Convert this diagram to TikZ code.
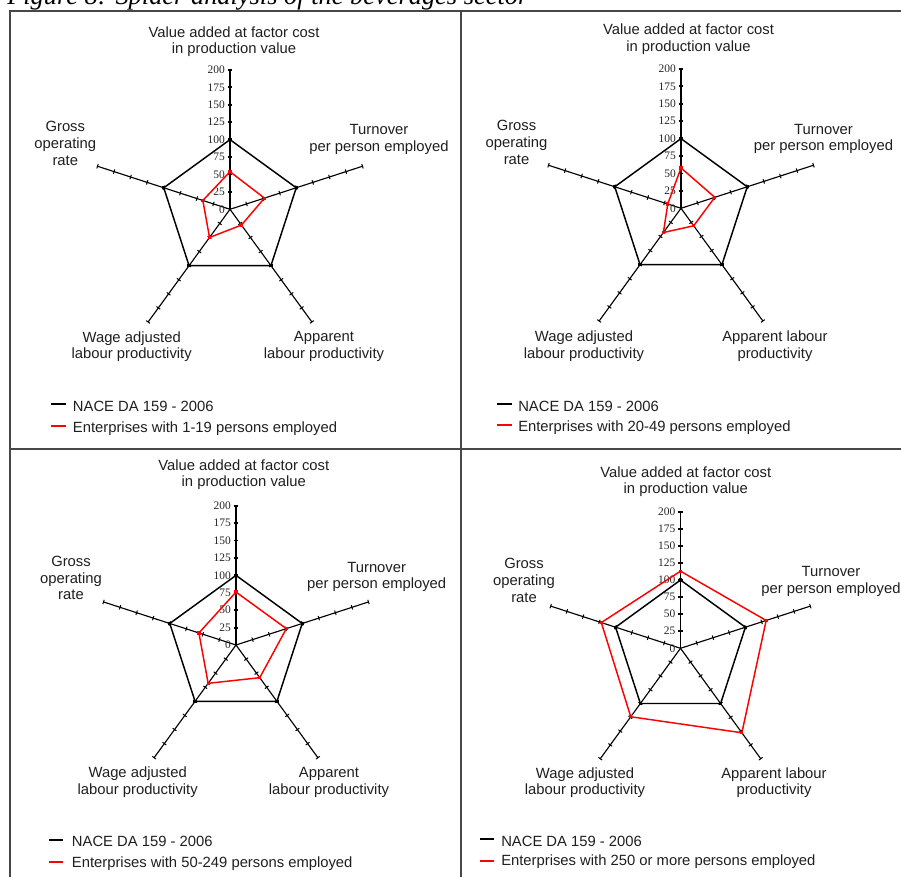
\documentclass[tikz,border=0pt]{standalone}
\usepackage{fontspec}
\setmainfont{Liberation Sans}
\newfontfamily\timesf{Liberation Serif}
\usetikzlibrary{calc}
\tikzset{
  frame/.style={draw=black!72, line width=1.5pt},
  mainaxis/.style={line width=1.4pt, black},
  axisline/.style={line width=0.85pt, black},
  tickmark/.style={line width=0.75pt, black},
  natpoly/.style={line width=1.1pt, black, line join=miter},
  secpoly/.style={line width=1.1pt, red, line join=miter},
  lbl/.style={font=\fontsize{11.1}{12.5}\selectfont, align=center, text=black!88, inner sep=0pt},
  ticklbl/.style={font=\timesf\fontsize{8.6}{9}\selectfont, anchor=east, inner sep=0pt, text=black!85},
  legtxt/.style={font=\fontsize{11.1}{12.5}\selectfont, anchor=west, inner sep=0pt, text=black!88},
  legline/.style={line width=1.5pt},
  mk/.style={rectangle, inner sep=0pt, minimum size=2.4pt},
  ttl/.style={font=\timesf\itshape\fontsize{19.8}{20}\selectfont, anchor=base west, inner sep=0pt},
}
% #1 prefix, #2 cx, #3 cy, #4 R(200), #5..#9 values
\newcommand\spiderchart[9]{%
\begin{scope}[shift={(#2,#3)}]
  \coordinate (#1c) at (0,0);
  \foreach \a in {-18,54,126,198}{
    \draw[axisline] (0,0) -- (\a:#4);
    \foreach \k in {1,...,8}{
      \draw[tickmark] ($(\a:\k*#4/8)+(\a+90:2.3)$) -- ($(\a:\k*#4/8)+(\a-90:2.3)$);
    }
  }
  \draw[mainaxis] (0,0) -- (0,-#4);
  \foreach \k in {1,...,8}{
    \draw[mainaxis] (-2.4,-\k*#4/8) -- (2.4,-\k*#4/8);
  }
  \foreach \k in {0,...,8}{
    \pgfmathtruncatemacro\tv{\k*25}
    \node[ticklbl] at (-5,-\k*#4/8) {\tv};
  }
  \draw[natpoly] (-90:#4/2) -- (-18:#4/2) -- (54:#4/2) -- (126:#4/2) -- (198:#4/2) -- cycle;
  \foreach \a in {-90,-18,54,126,198}{
    \node[mk, fill=black] at (\a:#4/2) {};
  }
  \draw[secpoly] (-90:#5/200*#4) -- (-18:#6/200*#4) -- (54:#7/200*#4) -- (126:#8/200*#4) -- (198:#9/200*#4) -- cycle;
  \foreach \a/\v in {-90/#5,-18/#6,54/#7,126/#8,198/#9}{
    \node[mk, fill=red] at (\a:\v/200*#4) {};
  }
\end{scope}}
\begin{document}
\begin{tikzpicture}[x=0.75pt,y=-0.75pt]
\useasboundingbox (0,0) rectangle (901,877);
\clip (0,0) rectangle (901,877);
\fill[white] (0,0) rectangle (901,877);

% title
\node[ttl] (title) at (7,4.5) {Figure 8: Spider analysis of the beverages sector};

% frame
\draw[frame] (10,877) -- (10,11.5) -- (901,11.5);
\draw[frame] (460.5,11.5) -- (460.5,877);
\draw[frame] (10,449) -- (901,449);

% ---------- panel 1 ----------
\spiderchart{pa}{230}{209.3}{139.3}{54}{52}{28}{50}{41}
\node[lbl] (pa-top) at (234,41.7) {Value added at factor cost\\in production value};
\node[lbl] (pa-gro) at (65.3,143.5) {Gross\\operating\\rate};
\node[lbl] (pa-tur) at (379,139.5) {Turnover\\per person employed};
\node[lbl] (pa-wag) at (131.7,346.7) {Wage adjusted\\labour productivity};
\node[lbl] (pa-app) at (324,346.7) {Apparent\\labour productivity};
\draw[legline, black] (51,404) -- (65.7,404);
\draw[legline, red] (51,425.7) -- (65.7,425.7);
\node[legtxt] (pa-l1) at (72.7,406.7) {NACE DA 159 - 2006};
\node[legtxt] (pa-l2) at (72.7,428.3) {Enterprises with 1-19 persons employed};

% ---------- panel 2 ----------
\spiderchart{pb}{681}{208.3}{139.3}{58}{51}{31}{43}{20}
\node[lbl] (pb-top) at (688.5,39.5) {Value added at factor cost\\in production value};
\node[lbl] (pb-gro) at (516.5,142.5) {Gross\\operating\\rate};
\node[lbl] (pb-tur) at (823.5,139) {Turnover\\per person employed};
\node[lbl] (pb-wag) at (584,346) {Wage adjusted\\labour productivity};
\node[lbl] (pb-app) at (775,346) {Apparent labour\\productivity};
\draw[legline, black] (497,404) -- (511.5,404);
\draw[legline, red] (497,425.5) -- (511.5,425.5);
\node[legtxt] (pb-l1) at (518,406.5) {NACE DA 159 - 2006};
\node[legtxt] (pb-l2) at (518,428) {Enterprises with 20-49 persons employed};

% ---------- panel 3 ----------
\spiderchart{pc}{236}{645}{139.3}{76}{76}{58}{68}{56}
\node[lbl] (pc-top) at (243.8,474.7) {Value added at factor cost\\in production value};
\node[lbl] (pc-gro) at (71,578) {Gross\\operating\\rate};
\node[lbl] (pc-tur) at (376.7,577) {Turnover\\per person employed};
\node[lbl] (pc-wag) at (137.7,782.3) {Wage adjusted\\labour productivity};
\node[lbl] (pc-app) at (329,782.3) {Apparent\\labour productivity};
\draw[legline, black] (49.3,840) -- (63.3,840);
\draw[legline, red] (49.3,862.3) -- (63.3,862.3);
\node[legtxt] (pc-l1) at (71.7,841.7) {NACE DA 159 - 2006};
\node[legtxt] (pc-l2) at (71.7,864) {Enterprises with 50-249 persons employed};

% ---------- panel 4 ----------
\spiderchart{pd}{680.5}{648.3}{136.5}{113}{132}{153}{124}{122}
\node[lbl] (pd-top) at (685.8,481.7) {Value added at factor cost\\in production value};
\node[lbl] (pd-gro) at (524,580.5) {Gross\\operating\\rate};
\node[lbl] (pd-tur) at (831,581.3) {Turnover\\per person employed};
\node[lbl] (pd-wag) at (585,782.8) {Wage adjusted\\labour productivity};
\node[lbl] (pd-app) at (774,782.8) {Apparent labour\\productivity};
\draw[legline, black] (480,839) -- (494.3,839);
\draw[legline, red] (480,860.7) -- (494.3,860.7);
\node[legtxt] (pd-l1) at (501,841) {NACE DA 159 - 2006};
\node[legtxt] (pd-l2) at (501,861.7) {Enterprises with 250 or more persons employed};
\end{tikzpicture}
\end{document}
